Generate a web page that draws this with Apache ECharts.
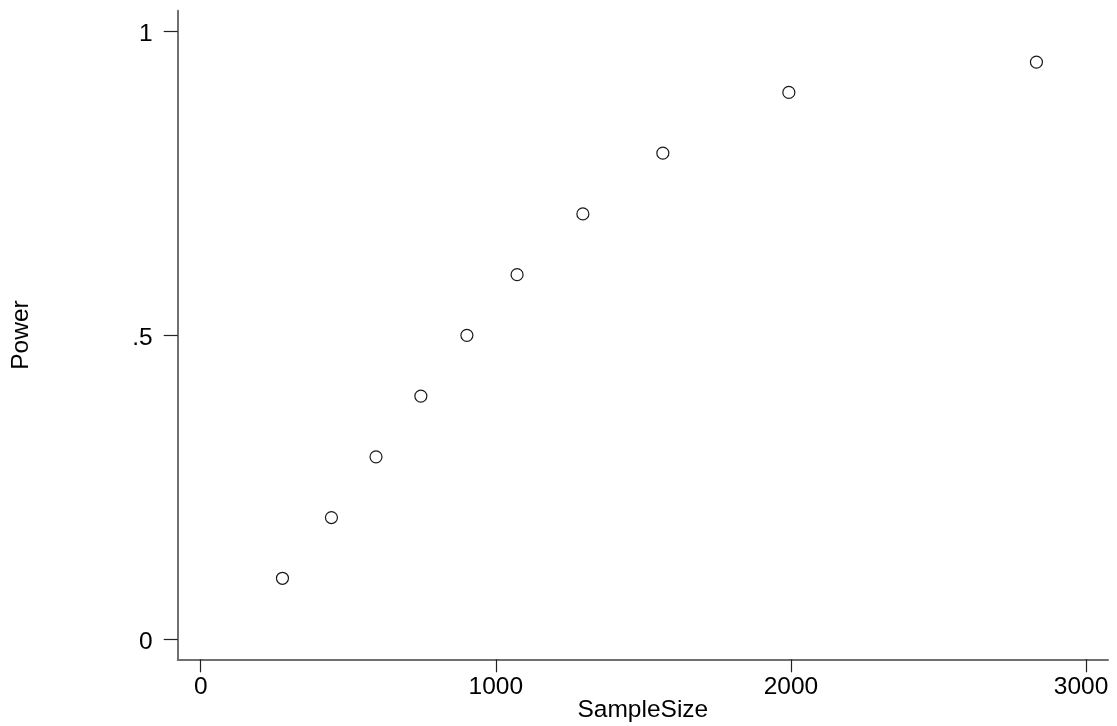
<!DOCTYPE html>
<html>
<head>
<meta charset="utf-8">
<script src="https://cdn.jsdelivr.net/npm/echarts@6/dist/echarts.min.js"></script>
<style>
  html, body { margin: 0; padding: 0; background: #fff; }
  #chart { width: 1117px; height: 726px; }
</style>
</head>
<body>
<div id="chart"></div>
<script>
const sampleSize = [277, 443, 594, 746, 902, 1072, 1295, 1566, 1993, 2832];
const power = [0.1, 0.2, 0.3, 0.4, 0.5, 0.6, 0.7, 0.8, 0.9, 0.95];
const xTickValues = [0, 1000, 2000, 3000];
const xTickLabels = ['0', '1000', '2000', '3000'];
const yTickValues = [0, 0.5, 1];
const yTickLabels = ['0', '.5', '1'];

const FONT = '"Liberation Sans", Arial, Helvetica, sans-serif';
const FS = 24.5;
const chart = echarts.init(document.getElementById('chart'), null, { renderer: 'canvas' });

function labelFor(values, labels, v) {
  const i = values.findIndex(t => Math.abs(t - v) < 1e-9);
  return i >= 0 ? labels[i] : '';
}

chart.setOption({
  animation: false,
  backgroundColor: '#ffffff',
  grid: { left: 177.7, right: 9, top: 10.7, bottom: 66.7, containLabel: false, outerBoundsMode: 'none' },
  xAxis: {
    type: 'value',
    min: -78,
    max: 3074.5,
    name: 'SampleSize',
    nameLocation: 'middle',
    nameGap: 38,
    nameMoveOverlap: false,
    nameTextStyle: { fontFamily: FONT, fontSize: FS, color: '#000' },
    axisLine: { show: true, onZero: false, lineStyle: { color: '#707070', width: 2 } },
    axisTick: { show: true, length: 13, customValues: xTickValues, lineStyle: { color: '#222', width: 1.2 } },
    axisLabel: {
      show: true, margin: 15, customValues: xTickValues,
      fontFamily: FONT, fontSize: FS, color: '#000',
      formatter: function (v) {
        const s = labelFor(xTickValues, xTickLabels, v);
        return v === xTickValues[xTickValues.length - 1] ? '{last|' + s + '}' : s;
      },
      rich: { last: { fontFamily: FONT, fontSize: FS, color: '#000', padding: [0, 10, 0, 0] } }
    },
    splitLine: { show: false }
  },
  yAxis: {
    type: 'value',
    min: -0.0334,
    max: 1.0346,
    name: 'Power',
    nameLocation: 'middle',
    nameGap: 144,
    nameRotate: 90,
    nameMoveOverlap: false,
    nameTextStyle: { fontFamily: FONT, fontSize: FS, color: '#000' },
    axisLine: { show: true, onZero: false, lineStyle: { color: '#707070', width: 2 } },
    axisTick: { show: true, length: 14, customValues: yTickValues, lineStyle: { color: '#222', width: 1.2 } },
    axisLabel: {
      show: true, margin: 25, customValues: yTickValues,
      fontFamily: FONT, fontSize: FS, color: '#000',
      formatter: function (v) { return '{d|' + labelFor(yTickValues, yTickLabels, v) + '}'; },
      rich: { d: { fontFamily: FONT, fontSize: FS, color: '#000', padding: [6, 0, 0, 0] } }
    },
    splitLine: { show: false }
  },
  series: [{
    type: 'scatter',
    data: sampleSize.map((s, i) => [s, power[i]]),
    symbol: 'circle',
    symbolSize: 12,
    itemStyle: { color: 'rgba(255,255,255,0)', borderColor: '#1a1a1a', borderWidth: 1.2, opacity: 1 }
  }]
});
</script>
</body>
</html>
